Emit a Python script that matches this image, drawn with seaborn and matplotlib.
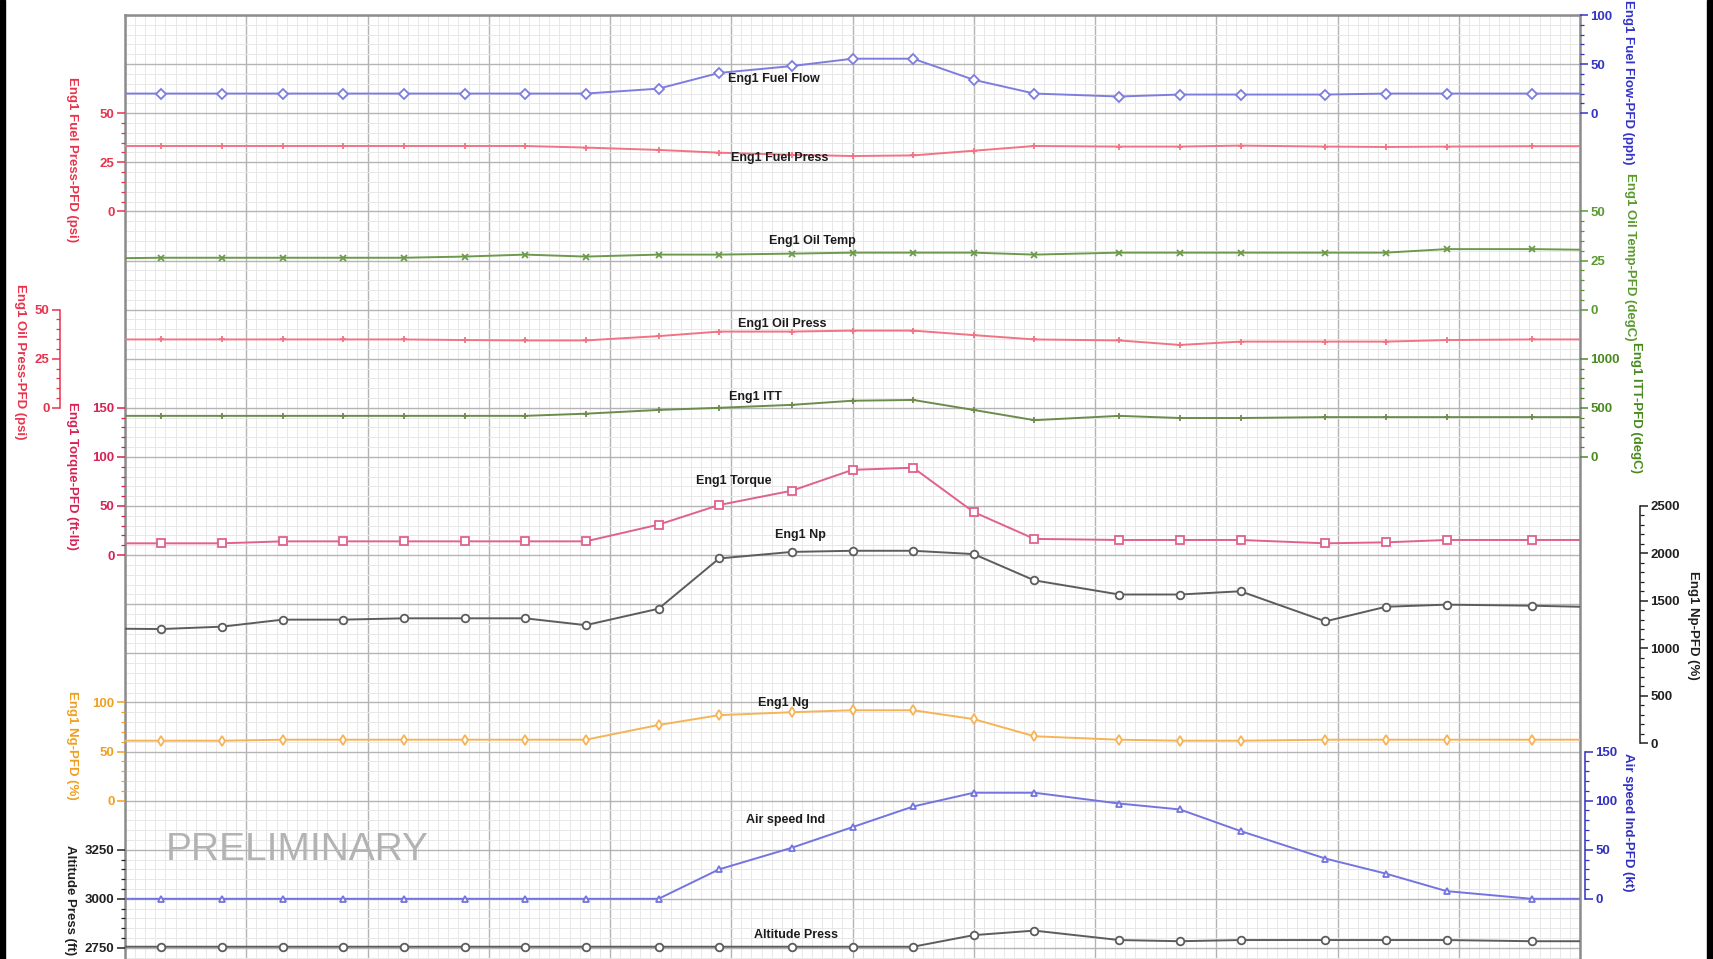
import matplotlib
matplotlib.use("Agg")
import matplotlib.pyplot as plt
import seaborn as sns
from matplotlib.ticker import FixedLocator, MultipleLocator
from matplotlib.patches import Rectangle

sns.set_theme(style="white")
plt.rcParams["font.family"] = ["Liberation Sans", "DejaVu Sans"]

# ---- flight data: time in seconds, one sample per row -------------------
time_s = [0, 18, 48, 78, 108, 138, 168, 198, 228, 264, 294, 330, 360, 390,
          420, 450, 492, 522, 552, 594, 624, 654, 696, 720]

fuel_flow = [20, 20, 20, 20, 20, 20, 20, 20, 20, 25, 41, 48, 55.5, 55.5,
             34, 20, 17, 19, 19, 19, 20, 20, 20, 20]
fuel_press = [33.3, 33.3, 33.3, 33.3, 33.3, 33.3, 33.3, 33.3, 32.5, 31.3,
              29.9, 28.8, 28.2, 28.5, 30.9, 33.3, 33, 33, 33.5, 33, 32.8,
              33, 33.2, 33.2]
oil_temp = [26.2, 26.4, 26.4, 26.4, 26.4, 26.4, 27, 28, 27, 28, 28, 28.5,
            29, 29, 29, 28, 29, 29, 29, 29, 29, 30.8, 30.8, 30.5]
oil_press = [34.8, 34.8, 34.8, 34.8, 34.8, 34.8, 34.5, 34.3, 34.3, 36.5,
             38.8, 38.8, 39.3, 39.3, 37, 34.8, 34.3, 32, 33.7, 33.7, 33.7,
             34.5, 34.8, 34.8]
itt = [418, 418, 418, 418, 418, 418, 418, 418, 440, 478, 500, 530, 572,
       580, 478, 374, 418, 396, 396, 405, 405, 405, 405, 405]
torque = [12, 12, 12, 14, 14, 14, 14, 14, 14, 31, 51, 65.6, 86.8, 89,
          43.8, 16.5, 15.4, 15.4, 15.4, 12, 13, 15.4, 15.4, 15.4]
np_rpm = [1206, 1203, 1228, 1302, 1302, 1316, 1316, 1316, 1244, 1417, 1947,
          2016, 2028, 2028, 1993, 1716, 1567, 1567, 1601, 1284, 1438, 1460,
          1449, 1438]
ng = [61, 61, 61, 62, 62, 62, 62, 62, 62, 77, 87, 90, 92, 92, 83, 65.5, 62,
      61, 61, 62, 62, 62, 62, 62]
airspeed = [0, 0, 0, 0, 0, 0, 0, 0, 0, 0, 30, 52, 73, 94, 108, 108, 97, 91,
            69, 41, 25.6, 7.8, 0, 0]
altitude = [2756, 2756, 2756, 2756, 2756, 2756, 2756, 2756, 2756, 2756, 2756,
            2756, 2756, 2756, 2815, 2838, 2790, 2784, 2790, 2790, 2790, 2790,
            2784, 2784]

# ---- layout (pixels) ------------------------------------------------------
W, H = 1713, 959
PX_L, PX_R, PX_T = 125, 1580, 15
UNIT_PX = 49.1
n_units = (H - PX_T) / UNIT_PX
PT = 72.0 / 100.0   # points per pixel

fig = plt.figure(figsize=(W / 100, H / 100), dpi=100)
fig.patch.set_facecolor("white")

ax = fig.add_axes([PX_L / W, 0, (PX_R - PX_L) / W, 1 - PX_T / H])
ax.set_facecolor("white")
ax.set_xlim(0, 720)
ax.set_ylim(n_units, 0)
ax.xaxis.set_major_locator(MultipleLocator(60))
ax.xaxis.set_minor_locator(MultipleLocator(5))
ax.yaxis.set_major_locator(MultipleLocator(1))
ax.yaxis.set_minor_locator(MultipleLocator(0.2))
ax.grid(which="minor", color="#e8e8e8", lw=0.7)
ax.grid(which="major", color="#b4b4b4", lw=1.0)
ax.tick_params(which="both", length=0, labelleft=False, labelbottom=False,
               labelright=False)
for s in ax.spines.values():
    s.set_color("#8c8c8c")
    s.set_linewidth(1.8)
ax.spines["bottom"].set_visible(False)

# each track: data, side, two (value, grid-row) anchors, ticks, minor step,
# colours, marker, axis title, spine offset (px), title position (px)
tracks = [
    dict(data=fuel_flow, side="right", a=(100, 0), b=(0, 2), ticks=[0, 50, 100],
         minor=10, line="#7d7de0", text="#3434c8", marker="D", ms=5,
         title="Eng1 Fuel Flow-PFD (pph)", off=0, tpos=(1628, 82)),
    dict(data=fuel_press, side="left", a=(50, 2), b=(0, 4), ticks=[0, 25, 50],
         minor=5, line="#f07484", text="#e8344c", marker="+", ms=5,
         title="Eng1 Fuel Press-PFD (psi)", off=0, tpos=(72, 160)),
    dict(data=oil_temp, side="right", a=(50, 4), b=(0, 6), ticks=[0, 25, 50],
         minor=5, line="#6c9a4c", text="#5a9a30", marker="x", ms=4.5,
         title="Eng1 Oil Temp-PFD (degC)", off=0, tpos=(1630, 257)),
    dict(data=oil_press, side="left", a=(50, 6), b=(0, 8), ticks=[0, 25, 50],
         minor=5, line="#f07484", text="#e8344c", marker="+", ms=5,
         title="Eng1 Oil Press-PFD (psi)", off=65, tpos=(20, 362)),
    dict(data=itt, side="right", a=(1000, 7), b=(0, 9), ticks=[0, 500, 1000],
         minor=100, line="#6c8c4c", text="#4a8a20", marker="+", ms=5,
         title="Eng1 ITT-PFD (degC)", off=0, tpos=(1636, 408)),
    dict(data=torque, side="left", a=(150, 8), b=(0, 11),
         ticks=[0, 50, 100, 150], minor=10, line="#e0628c", text="#d82254",
         marker="s", ms=5.5, title="Eng1 Torque-PFD (ft-lb)", off=0,
         tpos=(72, 476)),
    dict(data=np_rpm, side="right", a=(2500, 10), b=(0, 14.83),
         ticks=[0, 500, 1000, 1500, 2000, 2500], minor=100, line="#5c5c5c",
         text="#202020", marker="o", ms=5.5, title="Eng1 Np-PFD (%)", off=60,
         tpos=(1693, 625)),
    dict(data=ng, side="left", a=(100, 14), b=(0, 16), ticks=[0, 50, 100],
         minor=10, line="#f5b456", text="#f0a020", marker="d", ms=5,
         title="Eng1 Ng-PFD (%)", off=0, tpos=(72, 745)),
    dict(data=airspeed, side="right", a=(150, 15), b=(0, 18),
         ticks=[0, 50, 100, 150], minor=10, line="#7474e0", text="#3030c0",
         marker="^", ms=5, title="Air speed Ind-PFD (kt)", off=5,
         tpos=(1628, 822)),
    dict(data=altitude, side="left", a=(3250, 17), b=(2750, 19),
         ticks=[2750, 3000, 3250], minor=50, line="#5c5c5c", text="#202020",
         marker="o", ms=5.5, title="Altitude Press (ft)", off=0,
         tpos=(70, 845)),
]

for tr in tracks:
    tw = ax.twinx()
    (v_hi, u_hi), (v_lo, u_lo) = tr["a"], tr["b"]
    slope = (v_hi - v_lo) / (u_hi - u_lo)

    sns.lineplot(x=time_s, y=tr["data"], ax=tw, color=tr["line"], lw=1.4,
                 marker=tr["marker"], markersize=tr["ms"],
                 markerfacecolor="white", markeredgecolor=tr["line"],
                 markeredgewidth=1.3, markevery=slice(1, -1), legend=False)
    tw.set_ylim(v_lo + (n_units - u_lo) * slope, v_lo + (0 - u_lo) * slope)
    tw.set_xlim(0, 720)
    tw.set_xlabel("")
    tw.set_ylabel("")

    lo, hi = min(tr["ticks"]), max(tr["ticks"])
    tw.yaxis.set_major_locator(FixedLocator(tr["ticks"]))
    n_minor = int(round((hi - lo) / tr["minor"]))
    tw.yaxis.set_minor_locator(
        FixedLocator([lo + i * tr["minor"] for i in range(n_minor + 1)]))

    for s in tw.spines.values():
        s.set_visible(False)
    side = tr["side"]
    if side == "left":
        tw.yaxis.set_ticks_position("left")
    else:
        tw.yaxis.set_ticks_position("right")
    if tr["off"]:
        sp = tw.spines[side]
        sp.set_visible(True)
        sp.set_position(("outward", tr["off"] * PT))
        sp.set_bounds(lo, hi)
        sp.set_color(tr["text"])
        sp.set_linewidth(1.1)
    tw.tick_params(axis="y", which="major", direction="out", length=6,
                   width=1.1, color=tr["text"], labelcolor=tr["text"],
                   labelsize=9.5, pad=1.5)
    tw.tick_params(axis="y", which="minor", direction="out", length=3,
                   width=0.9, color=tr["text"])
    for lab in tw.get_yticklabels():
        lab.set_fontweight("bold")

    va = "top" if tr["title"].startswith("Altitude") else "center"
    fig.text(tr["tpos"][0] / W, 1 - tr["tpos"][1] / H, tr["title"],
             rotation=-90, ha="center", va=va, color=tr["text"],
             fontsize=9.5, fontweight="bold")

# ---- in-plot trace names --------------------------------------------------
trace_names = ["Eng1 Fuel Flow", "Eng1 Fuel Press", "Eng1 Oil Temp",
               "Eng1 Oil Press", "Eng1 ITT", "Eng1 Torque", "Eng1 Np",
               "Eng1 Ng", "Air speed Ind", "Altitude Press"]
name_pos = [(321, 1.30), (324, 2.91), (340, 4.60), (325, 6.29), (312, 7.78),
            (301, 9.49), (334, 10.59), (326, 14.02), (327, 16.40),
            (332, 18.74)]
for name, (tx, ty) in zip(trace_names, name_pos):
    fig.text(tx, ty, name, transform=ax.transData, ha="center", va="center",
             fontsize=9, fontweight="bold", color="#1c1c1c")

fig.text(85, 17.0, "PRELIMINARY", transform=ax.transData, ha="center",
         va="center", fontsize=28, color="#b3b3b3")

# dark borders at the left and right edges
fig.patches.append(Rectangle((0, 0), 5 / W, 1, transform=fig.transFigure,
                             color="black", zorder=10))
fig.patches.append(Rectangle((1 - 6 / W, 0), 6 / W, 1,
                             transform=fig.transFigure, color="black",
                             zorder=10))

fig.savefig("out.png", dpi=100)
